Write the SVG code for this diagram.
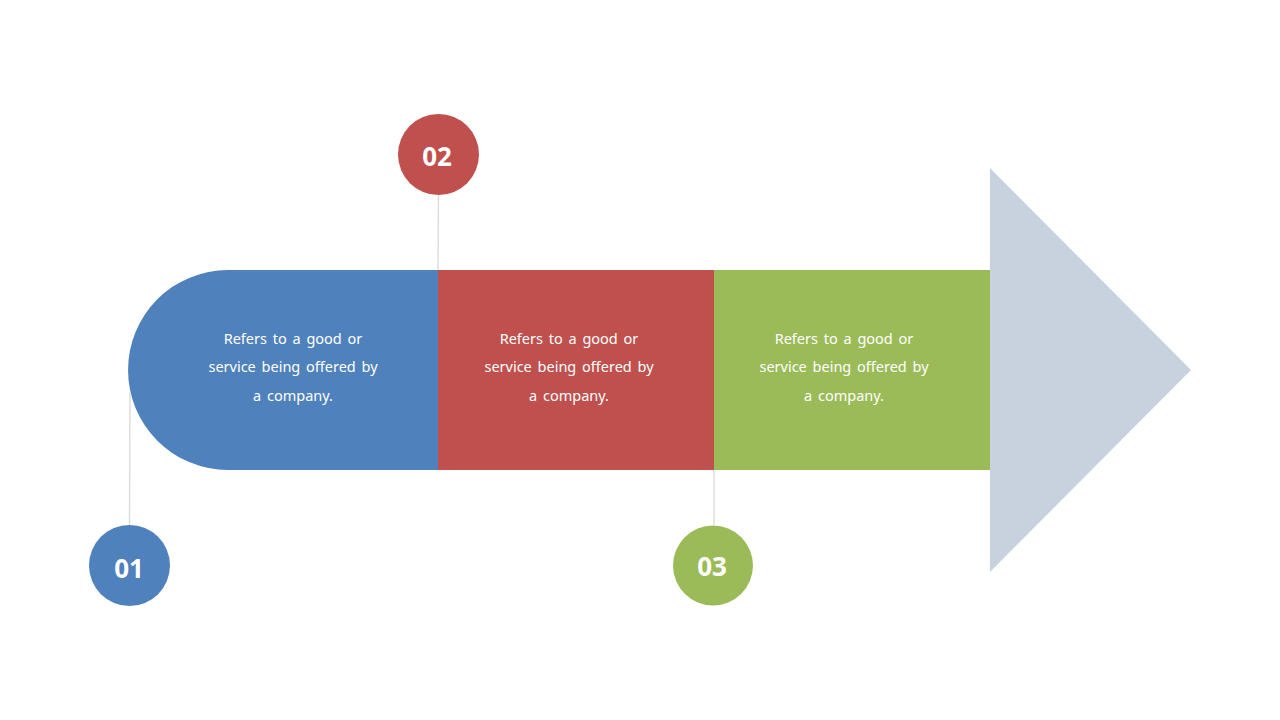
<svg xmlns="http://www.w3.org/2000/svg" width="1280" height="720" viewBox="0 0 1280 720">
<style>
.desc{font-family:"Noto Sans","Open Sans","DejaVu Sans",sans-serif;font-size:14.5px;word-spacing:2px;fill:#ffffff;text-anchor:middle}
.num{font-family:"Noto Sans","Open Sans","DejaVu Sans",sans-serif;font-size:26px;font-weight:bold;fill:#ffffff;text-anchor:middle}
.conn{stroke:#d9d9d9;stroke-width:1.3;fill:none}
</style>
<rect width="1280" height="720" fill="#ffffff"/>
<g id="arrow-head"><polygon points="990,168 1191,370 990,572" fill="#c8d2df"/></g>
<g id="segment-1">
<path d="M438,270 L228,270 A100,100 0 0 0 228,470 L438,470 Z" fill="#4f81bd"/>
<text class="desc" x="293" y="344">Refers to a good or</text>
<text class="desc" x="293" y="372">service being offered by</text>
<text class="desc" x="293" y="401">a company.</text>
</g>
<g id="segment-2">
<rect x="438" y="270" width="276" height="200" fill="#c0504d"/>
<text class="desc" x="569" y="344">Refers to a good or</text>
<text class="desc" x="569" y="372">service being offered by</text>
<text class="desc" x="569" y="401">a company.</text>
</g>
<g id="segment-3">
<rect x="714" y="270" width="276" height="200" fill="#9bbb59"/>
<text class="desc" x="844" y="344">Refers to a good or</text>
<text class="desc" x="844" y="372">service being offered by</text>
<text class="desc" x="844" y="401">a company.</text>
</g>
<g id="connectors">
<line class="conn" x1="130" y1="392" x2="129.5" y2="525"/>
<line class="conn" x1="438.5" y1="195" x2="438" y2="270"/>
<line class="conn" x1="714" y1="470" x2="714" y2="525"/>
</g>
<g id="badge-01">
<circle cx="129.5" cy="565.5" r="40.5" fill="#4f81bd"/>
<text class="num" x="129" y="578">01</text>
</g>
<g id="badge-02">
<circle cx="438.5" cy="154.5" r="40.5" fill="#c0504d"/>
<text class="num" x="437" y="166">02</text>
</g>
<g id="badge-03">
<circle cx="713" cy="565.5" r="40" fill="#9bbb59"/>
<text class="num" x="712" y="576">03</text>
</g>
</svg>
